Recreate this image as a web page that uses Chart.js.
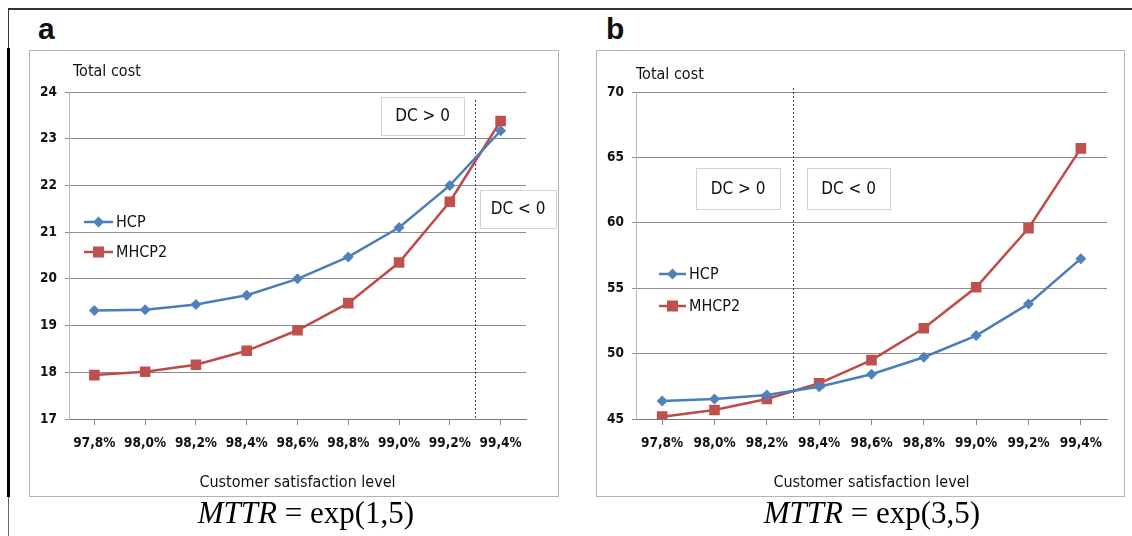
<!DOCTYPE html>
<html>
<head>
<meta charset="utf-8">
<script src="https://cdn.jsdelivr.net/npm/chart.js@4.4.0/dist/chart.umd.min.js"></script>
<style>
  body { margin: 0; background: #fff; width: 1132px; height: 536px; position: relative; overflow: hidden; }
  .abs { position: absolute; }
  .panel { position: absolute; top: 50px; height: 447px; border: 1px solid #b4b4b4; box-sizing: border-box; }
  .tag { position: absolute; top: 12px; font: bold 30px "Liberation Sans", Arial, sans-serif; color: #111; }
  .eq { position: absolute; top: 495px; width: 340px; text-align: center; font: 31px "Liberation Serif", "DejaVu Serif", serif; color: #000; }
  .eq i { font-style: italic; }
  canvas { position: absolute; }
</style>
</head>
<body>
<!-- frame pieces from the cropped page -->
<div class="abs" style="left:8px;top:8px;width:1124px;height:2px;background:#333"></div>
<div class="abs" style="left:8px;top:8px;width:1px;height:40px;background:#333"></div>
<div class="abs" style="left:7px;top:48px;width:3px;height:449px;background:#000"></div>
<div class="abs" style="left:8px;top:497px;width:1px;height:39px;background:#666"></div>

<div class="tag" style="left:38px">a</div>
<div class="tag" style="left:606px">b</div>

<div class="panel" style="left:29px;width:530px"></div>
<div class="panel" style="left:596px;width:529px"></div>

<canvas id="chartA" width="529" height="447" style="left:29px;top:50px"></canvas>
<canvas id="chartB" width="528" height="447" style="left:596px;top:50px"></canvas>

<div class="eq" style="left:136px"><i>MTTR</i> = exp(1,5)</div>
<div class="eq" style="left:702px"><i>MTTR</i> = exp(3,5)</div>

<script>
// categories (customer satisfaction level)
var levels = ['97,8%', '98,0%', '98,2%', '98,4%', '98,6%', '98,8%', '99,0%', '99,2%', '99,4%'];

// panel a: MTTR = exp(1,5)
var hcpA  = [19.32, 19.34, 19.45, 19.65, 20.0, 20.47, 21.1, 22.0, 23.17];
var mhcpA = [17.94, 18.01, 18.16, 18.46, 18.9, 19.48, 20.35, 21.65, 23.38];
var yTicksA = [17, 24, 1];

// panel b: MTTR = exp(3,5)
var hcpB  = [46.38, 46.53, 46.83, 47.47, 48.42, 49.72, 51.38, 53.8, 57.26];
var mhcpB = [45.18, 45.69, 46.53, 47.73, 49.5, 51.94, 55.07, 59.58, 65.69];
var yTicksB = [45, 70, 5];

var FONT = '"Liberation Sans Narrow", "DejaVu Sans Condensed", "Open Sans", sans-serif';
Chart.defaults.font.family = FONT;
Chart.defaults.color = '#111';

var BLUE = '#4A7EBB', BLUE_PT = '#4F81BD';
var RED = '#BE4B48', RED_PT = '#C0504D';

function diamond(ctx, x, y, r, c) {
  ctx.fillStyle = c;
  ctx.beginPath();
  ctx.moveTo(x, y - r); ctx.lineTo(x + r, y); ctx.lineTo(x, y + r); ctx.lineTo(x - r, y);
  ctx.closePath(); ctx.fill();
}

// extra bits: "Total cost", split line, DC boxes, legend
var deco = {
  id: 'deco',
  beforeDatasetsDraw: function(chart, args, o) {
    var ctx = chart.ctx, a = chart.chartArea, xs = chart.scales.x;
    ctx.save();
    ctx.fillStyle = '#111';
    ctx.font = '16px ' + FONT;
    ctx.textAlign = 'left'; ctx.textBaseline = 'middle';
    ctx.fillText('Total cost', a.left + o.cap[0], a.top + o.cap[1]);

    var sx = Math.round((xs.getPixelForValue(o.split) + xs.getPixelForValue(o.split + 1)) / 2) + 0.5;
    ctx.strokeStyle = '#444'; ctx.lineWidth = 1; ctx.setLineDash([2, 2]);
    ctx.beginPath(); ctx.moveTo(sx, a.top + o.splitTop); ctx.lineTo(sx, a.bottom); ctx.stroke();
    ctx.setLineDash([]);

    ctx.font = '17px ' + FONT;
    ctx.textAlign = 'center';
    o.boxes.forEach(function(b) {
      var x0 = a.left + b[1], y0 = a.top + b[2];
      ctx.fillStyle = '#fff';
      ctx.fillRect(x0, y0, b[3], b[4]);
      ctx.strokeStyle = '#d4d4d4';
      ctx.strokeRect(x0 + 0.5, y0 + 0.5, b[3], b[4]);
      ctx.fillStyle = '#111';
      ctx.fillText(b[0], x0 + b[3] / 2, y0 + b[4] / 2 + 1);
    });
    ctx.restore();
  },
  afterDatasetsDraw: function(chart, args, o) {
    var ctx = chart.ctx, a = chart.chartArea;
    ctx.save();
    ctx.font = '16px ' + FONT;
    ctx.textAlign = 'left'; ctx.textBaseline = 'middle';
    chart.data.datasets.forEach(function(ds, i) {
      var x0 = a.left + o.legend[0], x1 = a.left + o.legend[1], y = a.top + o.legend[2] + i * o.legend[3];
      ctx.strokeStyle = ds.borderColor; ctx.lineWidth = 2.5;
      ctx.beginPath(); ctx.moveTo(x0, y); ctx.lineTo(x1, y); ctx.stroke();
      var cx = (x0 + x1) / 2;
      if (ds.pointStyle === 'rect') {
        ctx.fillStyle = ds.pointBackgroundColor;
        ctx.fillRect(cx - 5.5, y - 5.5, 11, 11);
      } else {
        diamond(ctx, cx, y, 5.5, ds.pointBackgroundColor);
      }
      ctx.fillStyle = '#111';
      ctx.fillText(ds.label, x1 + 3, y + 1);
    });
    ctx.restore();
  }
};

function makeChart(id, hcp, mhcp, yt, padRight, d) {
  return new Chart(document.getElementById(id), {
    type: 'line',
    data: {
      labels: levels,
      datasets: [
        { label: 'HCP', data: hcp, borderColor: BLUE, borderWidth: 2.5, pointStyle: 'rectRot',
          pointRadius: 5.5, pointBackgroundColor: BLUE_PT, pointBorderWidth: 0, tension: 0 },
        { label: 'MHCP2', data: mhcp, borderColor: RED, borderWidth: 2.5, pointStyle: 'rect',
          pointRadius: 7.5, pointBackgroundColor: RED_PT, pointBorderWidth: 0, tension: 0 }
      ]
    },
    options: {
      responsive: false,
      animation: false,
      devicePixelRatio: 1,
      layout: { padding: { left: 0, right: padRight, top: 42, bottom: 0 } },
      plugins: { legend: { display: false }, tooltip: { enabled: false }, deco: d },
      scales: {
        x: {
          offset: true,
          afterFit: function(s) { s.height = 78; },
          grid: { drawOnChartArea: false, tickLength: 6, color: '#8a8a8a', offset: false },
          border: { color: '#7a7a7a', width: 1 },
          ticks: { padding: 10, font: { size: 13.5, weight: 'bold' }, maxRotation: 0, autoSkip: false },
          title: { display: true, text: 'Customer satisfaction level', font: { size: 16 }, padding: { top: 0, bottom: 5 } }
        },
        y: {
          min: yt[0], max: yt[1],
          afterFit: function(s) { s.width = 40; },
          grid: { color: '#8c8c8c', tickLength: 4 },
          border: { color: '#b8b8b8', width: 1 },
          ticks: { stepSize: yt[2], padding: 8, font: { size: 13.5, weight: 'bold' } }
        }
      }
    },
    plugins: [deco]
  });
}

makeChart('chartA', hcpA, mhcpA, yTicksA, 32, {
  cap: [4, -20], split: 7, splitTop: 8,
  boxes: [['DC > 0', 312, 5, 83, 38], ['DC < 0', 411, 98, 76, 38]],
  legend: [15, 44, 130, 30]
});
makeChart('chartB', hcpB, mhcpB, yTicksB, 17, {
  cap: [0, -17], split: 2, splitTop: -4,
  boxes: [['DC > 0', 60, 76, 84, 41], ['DC < 0', 171, 76, 83, 41]],
  legend: [23, 50, 182, 32]
});
</script>
</body>
</html>
